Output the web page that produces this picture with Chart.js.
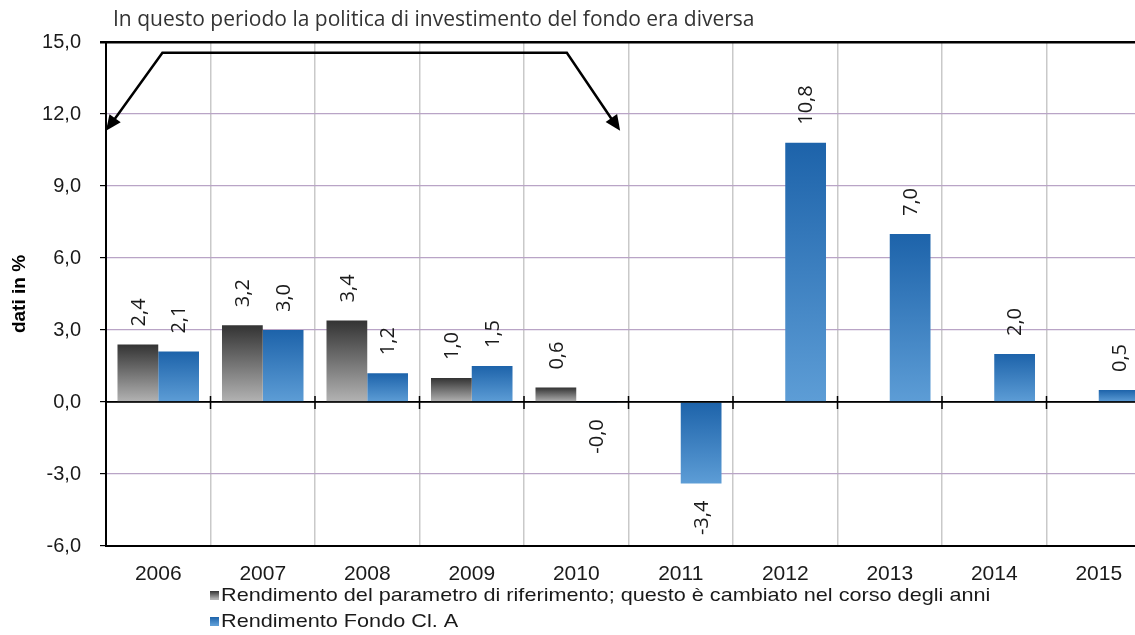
<!DOCTYPE html>
<html>
<head>
<meta charset="utf-8">
<script src="https://cdn.jsdelivr.net/npm/chart.js@4.4.1/dist/chart.umd.min.js"></script>
<style>
  html, body { margin: 0; padding: 0; background: #fff; overflow: hidden; }
  #wrap { width: 1153px; height: 635px; }
</style>
</head>
<body>
<div id="wrap"><canvas id="rendimentiChart" width="1153" height="635"></canvas></div>
<script>
const years = ['2006', '2007', '2008', '2009', '2010', '2011', '2012', '2013', '2014', '2015'];
const parametro = [2.4, 3.2, 3.4, 1.0, 0.6, null, null, null, null, null];
const fondo = [2.1, 3.0, 1.2, 1.5, -0.01, -3.4, 10.8, 7.0, 2.0, 0.5];
const yTicks = [-6, -3, 0, 3, 6, 9, 12, 15];

const labelParametro = 'Rendimento del parametro di riferimento; questo è cambiato nel corso degli anni';
const labelFondo = 'Rendimento Fondo Cl. A';
const titolo = 'In questo periodo la politica di investimento del fondo era diversa';

const grayStops = ['#333333', '#b3b3b3'];
const blueStops = ['#1d63aa', '#5d9dd6'];

function fmt(v) {
    return (v < 0 ? '-' : '') + Math.abs(v).toFixed(1).replace('.', ',');
}

function barGradient(stops) {
    return function (ctx) {
        const chart = ctx.chart;
        const y = chart.scales.y;
        if (!y || ctx.raw == null) return stops[0];
        const p = y.getPixelForValue(ctx.raw);
        const b = y.getPixelForValue(0);
        if (!isFinite(p) || !isFinite(b)) return stops[0];
        const top = Math.min(p, b), bottom = Math.max(p, b);
        if (bottom - top < 1) return stops[0];
        const g = chart.ctx.createLinearGradient(0, top, 0, bottom);
        g.addColorStop(0, stops[0]);
        g.addColorStop(1, stops[1]);
        return g;
    };
}

// rotated value labels, title, legend, arrow and zero-line ticks
const extras = {
    id: 'extras',
    afterDatasetsDraw(chart) {
        const c = chart.ctx;
        const x = chart.scales.x;
        const y = chart.scales.y;
        const area = chart.chartArea;

        // value labels
        c.save();
        c.font = '20px "Open Sans"';
        c.fillStyle = '#1a1a1a';
        c.textBaseline = 'middle';
        chart.data.datasets.forEach((ds, di) => {
            const meta = chart.getDatasetMeta(di);
            meta.data.forEach((bar, i) => {
                const v = ds.data[i];
                if (v == null) return;
                const yEnd = y.getPixelForValue(v);
                c.save();
                if (v >= 0) {
                    c.translate(bar.x, yEnd - 18);
                    c.rotate(-Math.PI / 2);
                    c.textAlign = 'left';
                } else {
                    c.translate(bar.x, yEnd + 17);
                    c.rotate(-Math.PI / 2);
                    c.textAlign = 'right';
                }
                c.fillText(fmt(v), 0, 1);
                c.restore();
            });
        });
        c.restore();

        // small ticks on the zero line
        const step = x.getPixelForValue(1) - x.getPixelForValue(0);
        const y0 = y.getPixelForValue(0);
        c.save();
        c.strokeStyle = '#000';
        c.lineWidth = 1.5;
        c.beginPath();
        c.moveTo(area.left, y0);
        c.lineTo(area.right, y0);
        for (let i = 1; i < years.length; i++) {
            const px = x.getPixelForValue(0) + (i - 0.5) * step;
            c.moveTo(px, y0 - 6);
            c.lineTo(px, y0 + 7);
        }
        c.stroke();
        c.restore();

        // arrow annotation
        const px = i => x.getPixelForValue(0) + i * step;
        const pts = [
            [px(-0.5), y.getPixelForValue(11.3)],
            [px(0.04), y.getPixelForValue(14.55)],
            [px(3.91), y.getPixelForValue(14.55)],
            [px(4.42), y.getPixelForValue(11.3)]
        ];
        c.save();
        c.strokeStyle = '#000';
        c.fillStyle = '#000';
        c.lineWidth = 2.5;
        c.lineJoin = 'miter';
        c.beginPath();
        c.moveTo(pts[0][0] + 6, pts[0][1] - 8);
        c.lineTo(pts[1][0], pts[1][1]);
        c.lineTo(pts[2][0], pts[2][1]);
        c.lineTo(pts[3][0] - 6, pts[3][1] - 8);
        c.stroke();
        [[pts[0], pts[1]], [pts[3], pts[2]]].forEach(([tip, from]) => {
            const ang = Math.atan2(tip[1] - from[1], tip[0] - from[0]);
            const len = 17, half = 0.42;
            c.beginPath();
            c.moveTo(tip[0], tip[1]);
            c.lineTo(tip[0] - len * Math.cos(ang - half), tip[1] - len * Math.sin(ang - half));
            c.lineTo(tip[0] - len * Math.cos(ang + half), tip[1] - len * Math.sin(ang + half));
            c.closePath();
            c.fill();
        });
        c.restore();

        // title
        c.save();
        c.font = '21px "Open Sans"';
        c.fillStyle = '#333333';
        c.textBaseline = 'middle';
        c.textAlign = 'left';
        c.fillText(titolo, area.left + 7, 20);
        c.restore();

        // legend (text slightly stretched like the original)
        const items = [[labelParametro, grayStops], [labelFondo, blueStops]];
        c.save();
        c.font = '19px "Liberation Sans"';
        c.textBaseline = 'middle';
        items.forEach(([txt, stops], k) => {
            const ly = 595 + k * 26;
            const g = c.createLinearGradient(0, ly - 4, 0, ly + 4);
            g.addColorStop(0, stops[0]);
            g.addColorStop(1, stops[1]);
            c.fillStyle = g;
            c.fillRect(210, ly - 4, 9, 9);
            c.save();
            c.translate(221, ly + 1);
            c.scale(1.14, 1);
            c.fillStyle = '#1a1a1a';
            c.fillText(txt, 0, 0);
            c.restore();
        });
        c.restore();
    }
};

const ctx = document.getElementById('rendimentiChart').getContext('2d');
new Chart(ctx, {
    type: 'bar',
    data: {
        labels: years,
        datasets: [{
            label: labelParametro,
            data: parametro,
            backgroundColor: barGradient(grayStops),
            borderWidth: 0,
            categoryPercentage: 0.78,
            barPercentage: 1.0
        }, {
            label: labelFondo,
            data: fondo,
            backgroundColor: barGradient(blueStops),
            borderWidth: 0,
            categoryPercentage: 0.78,
            barPercentage: 1.0
        }]
    },
    options: {
        responsive: false,
        animation: false,
        layout: { padding: { top: 42, right: 2, left: 0, bottom: 0 } },
        plugins: {
            legend: { display: false },
            tooltip: { enabled: false }
        },
        scales: {
            x: {
                grid: { offset: true, color: '#c9c9c9', lineWidth: 1.5, drawTicks: false },
                border: { color: '#000', width: 2 },
                ticks: { color: '#1a1a1a', font: { family: 'Liberation Sans', size: 21 }, padding: 16 },
                afterFit(scale) { scale.height = 89; }
            },
            y: {
                min: -6,
                max: 15,
                afterBuildTicks(scale) { scale.ticks = yTicks.map(v => ({ value: v })); },
                grid: {
                    color: c => (c.tick && (c.tick.value === 15 || c.tick.value === 0)) ? '#000' : '#b9a4c6',
                    lineWidth: c => (c.tick && c.tick.value === 15) ? 2.5 : 1.2,
                    tickColor: '#000',
                    tickLength: 6
                },
                border: { color: '#000', width: 2 },
                ticks: {
                    color: '#1a1a1a',
                    font: { family: 'Liberation Sans', size: 20 },
                    padding: 19,
                    callback: v => v.toFixed(1).replace('.', ',')
                },
                title: {
                    display: true,
                    text: 'dati in %',
                    color: '#000',
                    font: { family: 'Liberation Sans', size: 19, weight: 'bold' },
                    padding: { top: 8, bottom: 2 }
                },
                afterFit(scale) { scale.width = 106; }
            }
        }
    },
    plugins: [extras]
});
</script>
</body>
</html>
